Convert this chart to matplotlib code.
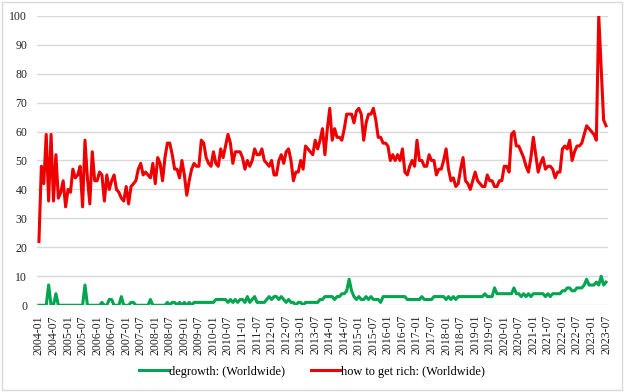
import numpy as np
import matplotlib
matplotlib.use("Agg")
import matplotlib.pyplot as plt
from matplotlib.patches import Rectangle

plt.rcParams['font.family'] = ['Liberation Serif', 'DejaVu Serif']

# monthly Google Trends index, 2004-01 .. 2023-07 (one row per year)
rich = [
    22, 48, 42, 59, 36, 59, 36, 52, 37, 39, 43, 34,
    40, 39, 47, 44, 45, 48, 34, 57, 44, 35, 53, 43,
    43, 46, 45, 36, 45, 40, 43, 45, 40, 39, 37, 36,
    41, 35, 41, 42, 43, 47, 49, 45, 46, 45, 44, 49,
    42, 51, 49, 43, 51, 56, 56, 52, 47, 47, 44, 50,
    45, 38, 43, 47, 49, 48, 48, 57, 56, 51, 49, 48,
    53, 49, 48, 54, 51, 55, 59, 56, 49, 53, 53, 53,
    51, 47, 50, 48, 50, 54, 52, 52, 54, 50, 49, 48,
    50, 45, 45, 50, 52, 49, 53, 54, 50, 43, 46, 46,
    50, 47, 55, 54, 53, 52, 57, 54, 57, 61, 52, 61,
    68, 57, 61, 58, 58, 57, 61, 66, 66, 66, 63, 67,
    68, 66, 57, 63, 66, 66, 68, 64, 58, 58, 56, 56,
    55, 50, 52, 50, 52, 50, 54, 46, 45, 48, 50, 48,
    57, 50, 50, 48, 48, 52, 50, 50, 45, 47, 47, 50,
    54, 47, 43, 44, 41, 42, 47, 51, 43, 42, 40, 43,
    46, 43, 42, 41, 41, 45, 43, 43, 41, 41, 43, 43,
    48, 48, 46, 59, 60, 55, 55, 53, 51, 48, 46, 51,
    58, 52, 46, 49, 51, 47, 48, 48, 47, 44, 46, 46,
    54, 55, 54, 57, 50, 53, 55, 55, 56, 59, 62, 61,
    60, 59, 57, 100, 82, 64, 62,
]

degrowth = [
    0, 0, 0, 0, 7, 0, 0, 4, 0, 0, 0, 0,
    0, 0, 0, 0, 0, 0, 0, 7, 0, 0, 0, 0,
    0, 0, 1, 0, 0, 2, 2, 0, 0, 0, 3, 0,
    0, 0, 1, 1, 0, 0, 0, 0, 0, 0, 2, 0,
    0, 0, 0, 0, 0, 1, 0, 1, 1, 0, 1, 0,
    1, 0, 1, 0, 1, 1, 1, 1, 1, 1, 1, 1,
    1, 2, 2, 2, 2, 2, 1, 2, 1, 2, 1, 2,
    2, 1, 3, 1, 2, 3, 1, 1, 1, 1, 2, 3,
    2, 3, 3, 2, 3, 2, 1, 2, 1, 1, 0, 1,
    1, 0, 1, 1, 1, 1, 1, 1, 2, 2, 3, 3,
    3, 3, 2, 3, 3, 4, 4, 5, 9, 5, 3, 2,
    3, 2, 2, 3, 2, 3, 2, 2, 2, 1, 3, 3,
    3, 3, 3, 3, 3, 3, 3, 3, 2, 2, 2, 2,
    2, 2, 3, 2, 2, 2, 2, 3, 3, 3, 3, 3,
    2, 3, 2, 3, 2, 3, 3, 3, 3, 3, 3, 3,
    3, 3, 3, 3, 4, 3, 3, 3, 6, 4, 4, 4,
    4, 4, 4, 4, 6, 4, 4, 3, 4, 3, 4, 3,
    4, 4, 4, 4, 4, 3, 4, 3, 4, 4, 4, 4,
    5, 5, 6, 6, 5, 5, 6, 6, 6, 7, 9, 7,
    7, 7, 8, 7, 10, 7, 8,
]

months = ["%d-%02d" % (2004 + i // 12, i % 12 + 1) for i in range(len(rich))]
x = np.arange(len(months))

fig = plt.figure(figsize=(6.24, 3.92), dpi=100)
ax = fig.add_axes([0.0593, 0.2212, 0.915, 0.7388])

ax.plot(x, degrowth, color='#00A550', lw=2.2, label='degrowth: (Worldwide)')
ax.plot(x, rich, color='#EE0000', lw=2.2, label='how to get rich: (Worldwide)')

ax.set_ylim(0, 100)
ax.set_xlim(-0.8, len(months) - 0.2)
ax.set_yticks(range(0, 101, 10))
ax.set_xticks(x[::6])
ax.set_xticklabels(months[::6], rotation=90)
ax.tick_params(length=0, labelsize=8.5, colors='#222222')
ax.tick_params(axis='y', pad=7)
ax.tick_params(axis='x', pad=7)
ax.grid(axis='y', color='#D9D9D9', lw=1)
ax.set_axisbelow(True)
for s in ax.spines.values():
    s.set_visible(False)

fig.legend(loc='center', bbox_to_anchor=(0.5, 0.052), ncol=2, frameon=False,
           fontsize=8.8, handlelength=2.4, handletextpad=0.05, columnspacing=2.1)

fig.patches.append(Rectangle((0.004, 0.006), 0.992, 0.988, transform=fig.transFigure,
                             fill=False, edgecolor='#D9D9D9', lw=1))

fig.savefig('out.png', dpi=100)
